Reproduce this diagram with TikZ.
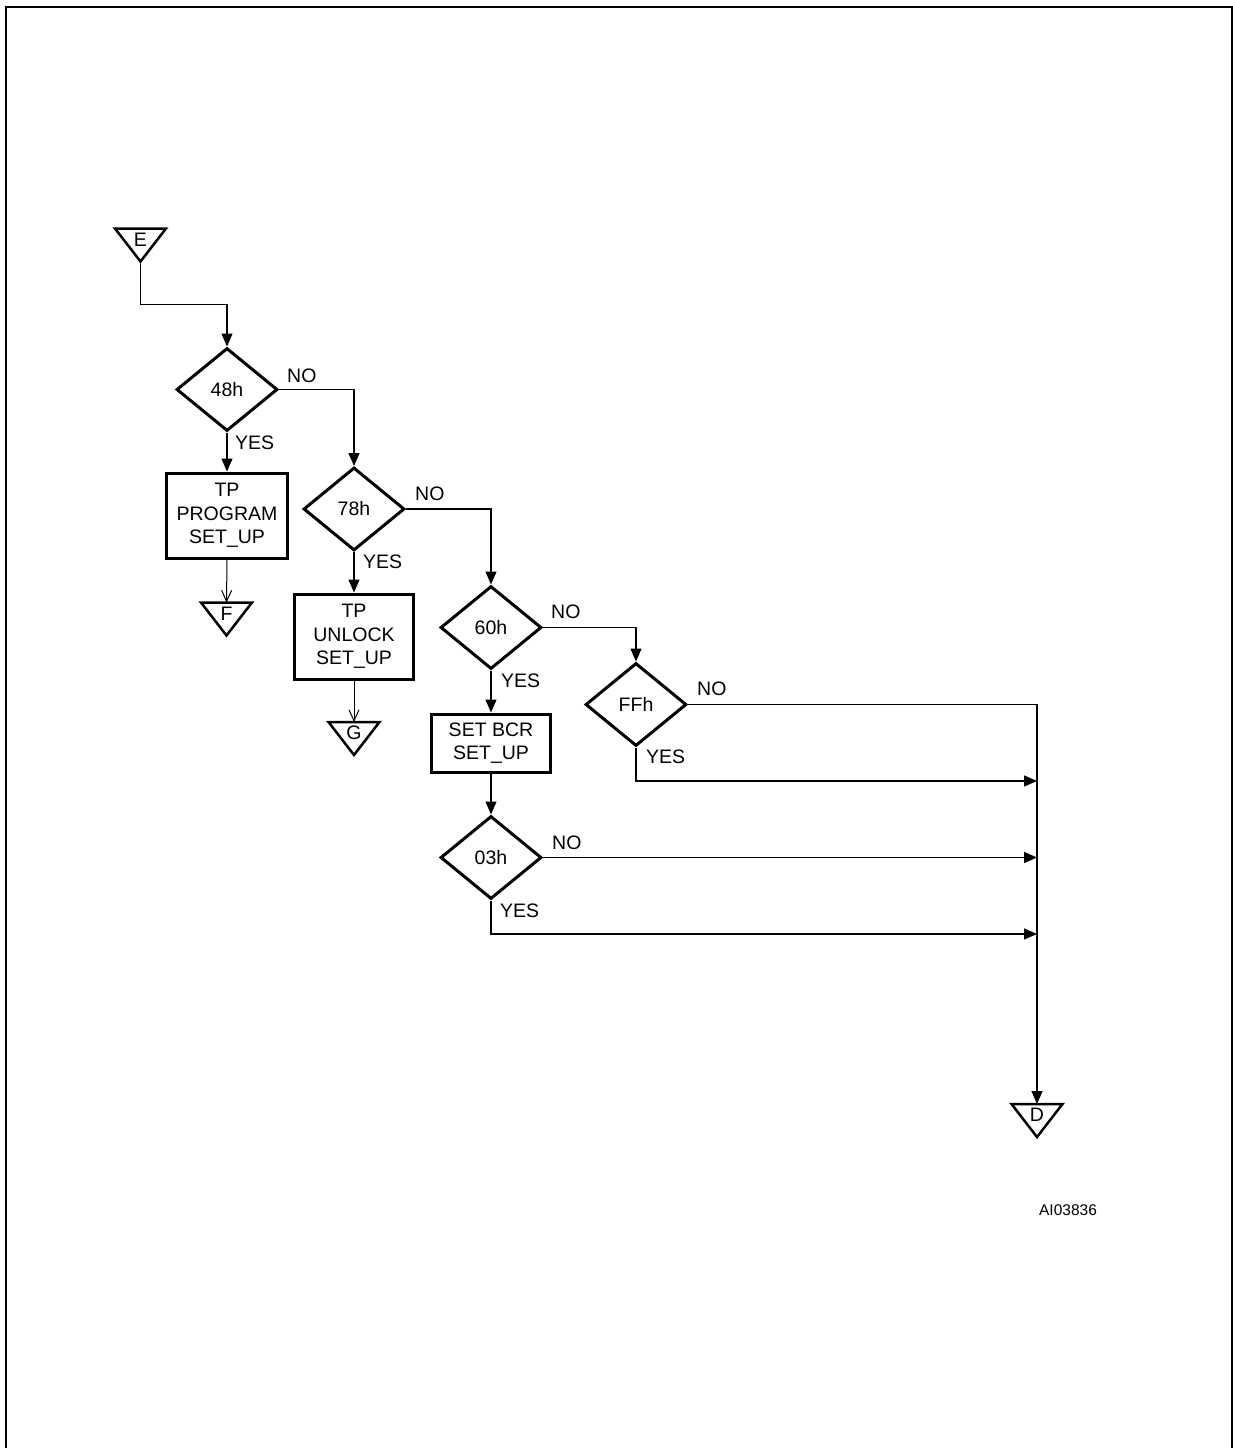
\documentclass[tikz,border=0pt]{standalone}
\usepackage{fontspec}
\setmainfont{Liberation Sans}
\usetikzlibrary{shapes.geometric,arrows.meta,calc}
\newcommand{\termtri}[4]{%
  \coordinate (#1-top) at (#2,#3);
  \coordinate (#1-apex) at (#2,#3+33);
  \draw[termline] (#2-25.5,#3) -- (#2+25.5,#3) -- (#1-apex) -- cycle;
  \node[termtxt] (#1) at (#2,#3+11) {#4};
}
\begin{document}
\begin{tikzpicture}[x=1pt,y=-1pt,
  font=\fontsize{19.5}{23.5}\selectfont,
  dec/.style={diamond, draw, line width=3pt, minimum width=101pt, minimum height=83pt, inner sep=0pt},
  proc/.style={rectangle, draw, line width=3pt, align=center, inner sep=0pt},
  conn/.style={line width=1.3pt, -{Triangle[length=13pt,width=11pt]}},
  connthin/.style={line width=1pt, -{Straight Barb[length=11pt,width=10pt,line width=1pt]}},
  termline/.style={line width=2.5pt, line join=miter},
  termtxt/.style={inner sep=0pt},
  lbl/.style={anchor=base west, inner sep=0pt}]
\useasboundingbox (0,0) rectangle (1233,1448);
% frame
\draw[line width=2pt] (6,1448) -- (6,6.5) -- (1232,6.5) -- (1232,1448);

% terminals
\termtri{E}{140.5}{228.5}{E}
\termtri{F}{226.5}{602.5}{F}
\termtri{G}{354}{722}{G}
\termtri{D}{1037}{1104}{D}

% decisions
\node[dec] (d48) at (227,389.5) {48h};
\node[dec] (d78) at (354,509) {78h};
\node[dec] (d60) at (491,627.5) {60h};
\node[dec] (dFF) at (636,704.5) {FFh};
\node[dec] (d03) at (491,857.5) {03h};

% processes
\node[proc, minimum width=121pt, minimum height=85pt] (b1) at (227,515.5) {TP\\PROGRAM\\SET\_UP};
\node[proc, minimum width=119pt, minimum height=85pt] (b2) at (354,636.5) {TP\\UNLOCK\\SET\_UP};
\node[proc, minimum width=119pt, minimum height=58pt] (b3) at (491,743) {SET BCR\\SET\_UP};

% bus coordinates
\coordinate (busFF) at (1037,781);
\coordinate (bus03n) at (1037,857.5);
\coordinate (bus03y) at (1037,934);

% connectors
\draw[conn] (E-apex) -- ++(0,43) -| (d48.north);
\draw[conn] (d48.east) -| (d78.north);
\draw[conn] (d48.south) -- (b1.north);
\draw[connthin] (b1.south) -- (F-top);
\draw[conn] (d78.east) -| (d60.north);
\draw[conn] (d78.south) -- (b2.north);
\draw[connthin] (b2.south) -- (G-top);
\draw[conn] (d60.east) -| (dFF.north);
\draw[conn] (d60.south) -- (b3.north);
\draw[conn] (b3.south) -- (d03.north);
\draw[conn] (dFF.east) -| (D-top);
\draw[conn] (dFF.south) |- (busFF);
\draw[conn] (d03.east) -- (bus03n);
\draw[conn] (d03.south) |- (bus03y);

% labels
\node[lbl] (n48) at (287,382) {NO};
\node[lbl] (y48) at (235,449) {YES};
\node[lbl] (n78) at (415,500) {NO};
\node[lbl] (y78) at (363,568) {YES};
\node[lbl] (n60) at (551,618) {NO};
\node[lbl] (y60) at (501,687) {YES};
\node[lbl] (nFF) at (697,695) {NO};
\node[lbl] (yFF) at (646,763) {YES};
\node[lbl] (n03) at (552,849) {NO};
\node[lbl] (y03) at (500,917) {YES};

\node[anchor=base, inner sep=0pt, font=\fontsize{15.5}{18}\selectfont] (code) at (1068,1215) {AI03836};
\end{tikzpicture}
\end{document}
